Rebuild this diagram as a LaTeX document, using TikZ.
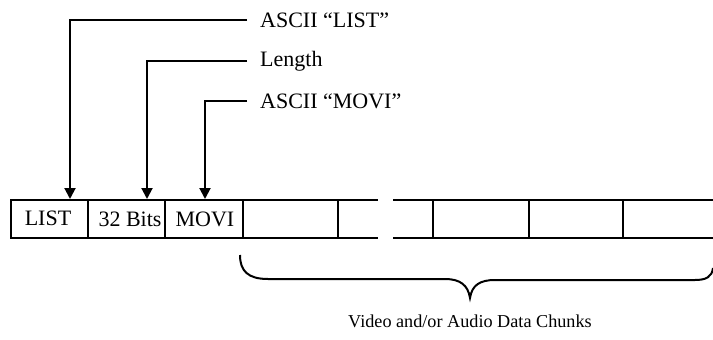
\documentclass[tikz,border=0pt]{standalone}
\usepackage{fontspec}
\setmainfont{Liberation Serif}
\usetikzlibrary{arrows.meta}
\begin{document}
\begin{tikzpicture}[x=1pt,y=-1pt,
  rule/.style={line width=2pt,line cap=rect},
  pointer/.style={line width=2pt,-{Triangle[width=11pt,length=11pt]}},
  lbl/.style={anchor=west,inner sep=0pt,font=\fontsize{22}{25}\selectfont},
  celltext/.style={inner sep=0pt,font=\fontsize{22}{25}\selectfont},
  captext/.style={inner sep=0pt,font=\fontsize{18.2}{21}\selectfont}]
\useasboundingbox (0,0) rectangle (713,340);
% cell row, left part
\draw[rule] (377,200) -- (11,200) -- (11,238) -- (377,238);
\foreach \x in {88,165,243,338} \draw[rule] (\x,200) -- (\x,238);
% cell row, right part
\draw[rule] (394,200) -- (713,200);
\draw[rule] (394,238) -- (713,238);
\foreach \x in {433,529,623} \draw[rule] (\x,200) -- (\x,238);
% cell texts
\node[celltext] (clist) at (48,218) {LIST};
\node[celltext] (cbits) at (130,219) {32 Bits};
\node[celltext] (cmovi) at (205,219) {MOVI};
% targets
\coordinate (tlist) at (70,199);
\coordinate (tbits) at (147,199);
\coordinate (tmovi) at (205,199);
% labels
\coordinate (elist) at (247,20);
\coordinate (elen) at (247,61);
\coordinate (emovi) at (247,101);
\node[lbl] (llist) at (260,20) {ASCII “LIST”};
\node[lbl] (llen) at (260,61) {Length};
\node[lbl] (lmovi) at (260,101) {ASCII “MOVI”};
\draw[pointer] (elist) -| (tlist);
\draw[pointer] (elen) -| (tbits);
\draw[pointer] (emovi) -| (tmovi);
% brace
\coordinate (bl) at (240,255);
\coordinate (bt) at (470,298);
\coordinate (br) at (713,268);
\draw[line width=2pt] (bl) .. controls (240,271) and (248,279) .. (268,279)
  -- (445,279) .. controls (460,279) and (468,285) .. (bt)
  .. controls (472,285) and (480,280) .. (495,280)
  -- (695,280) .. controls (706,280) and (712,277) .. (br);
\node[captext] (cap) at (470,321) {Video and/or Audio Data Chunks};
\end{tikzpicture}
\end{document}
